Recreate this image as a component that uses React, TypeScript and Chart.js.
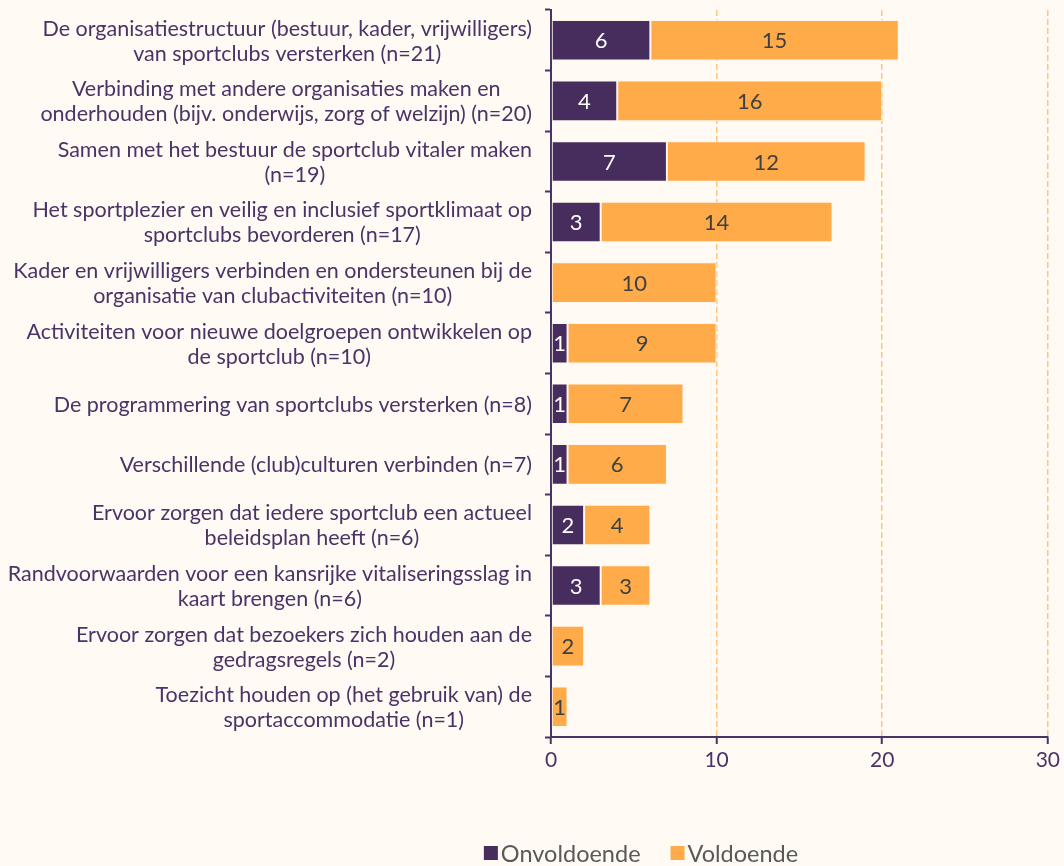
import React, { useEffect, useRef } from "react";
import { Chart, registerables } from "chart.js";

Chart.register(...registerables);

const categories: string[][] = [
  ["De organisatiestructuur (bestuur, kader, vrijwilligers)", "van sportclubs versterken (n=21)"],
  ["Verbinding met andere organisaties maken en", "onderhouden (bijv. onderwijs, zorg of welzijn) (n=20)"],
  ["Samen met het bestuur de sportclub vitaler maken", "(n=19)"],
  ["Het sportplezier en veilig en inclusief sportklimaat op", "sportclubs bevorderen (n=17)"],
  ["Kader en vrijwilligers verbinden en ondersteunen bij de", "organisatie van clubactiviteiten (n=10)"],
  ["Activiteiten voor nieuwe doelgroepen ontwikkelen op", "de sportclub (n=10)"],
  ["De programmering van sportclubs versterken (n=8)"],
  ["Verschillende (club)culturen verbinden (n=7)"],
  ["Ervoor zorgen dat iedere sportclub een actueel", "beleidsplan heeft (n=6)"],
  ["Randvoorwaarden voor een kansrijke vitaliseringsslag in", "kaart brengen (n=6)"],
  ["Ervoor zorgen dat bezoekers zich houden aan de", "gedragsregels (n=2)"],
  ["Toezicht houden op (het gebruik van) de", "sportaccommodatie (n=1)"],
];

const onvoldoende: number[] = [6, 4, 7, 3, 0, 1, 1, 1, 2, 3, 0, 0];
const voldoende: number[] = [15, 16, 12, 14, 10, 9, 7, 6, 4, 3, 2, 1];
const xTicks: number[] = [0, 10, 20, 30];

const PURPLE = "#472c5e";
const ORANGE = "#ffab4a";
const TEXT_PURPLE = "#4a3366";
const LEGEND_GREY = "#595959";
const GRID_ORANGE = "#ffc47f";
const BG = "#fffaf3";
const FONT = "Lato, 'Open Sans', sans-serif";

const labelPlugin = {
  id: "barValueLabels",
  afterDatasetsDraw(chart: any) {
    const ctx = chart.ctx;
    ctx.save();
    ctx.font = `22px ${FONT}`;
    ctx.textAlign = "center";
    ctx.textBaseline = "middle";
    chart.data.datasets.forEach((ds: any, di: number) => {
      const meta = chart.getDatasetMeta(di);
      meta.data.forEach((bar: any, i: number) => {
        const v = ds.data[i];
        if (!v) return;
        const cx = (bar.x + bar.base) / 2;
        ctx.fillStyle = di === 0 ? "#ffffff" : "#404040";
        ctx.fillText(String(v), cx, bar.y + 1);
      });
    });
    ctx.restore();
  },
};

// category labels: each block right-aligned to the axis, its lines centred within the block
const categoryLabelPlugin = {
  id: "categoryLabels",
  afterDraw(chart: any) {
    const ctx = chart.ctx;
    const y = chart.scales.y;
    ctx.save();
    ctx.font = `21.5px ${FONT}`;
    ctx.fillStyle = TEXT_PURPLE;
    ctx.textAlign = "center";
    ctx.textBaseline = "middle";
    const right = y.right - 19;
    const lh = 25;
    (chart.data.labels as string[][]).forEach((lines, i) => {
      const cy = y.getPixelForValue(i);
      const w = Math.max(...lines.map((l) => ctx.measureText(l).width));
      const cx = right - w / 2;
      const top = cy - ((lines.length - 1) * lh) / 2;
      lines.forEach((l, j) => ctx.fillText(l, cx, top + j * lh + 1));
    });
    ctx.restore();
  },
};

const legendPlugin = {
  id: "customLegend",
  afterDraw(chart: any) {
    const ctx = chart.ctx;
    ctx.save();
    ctx.font = `23.5px ${FONT}`;
    ctx.textBaseline = "middle";
    ctx.textAlign = "left";
    const cy = 853;
    const box = 14;
    const gapBoxText = 3;
    const gapItems = 30;
    const items = chart.data.datasets.map((d: any) => ({
      text: d.label,
      color: d.backgroundColor,
      w: box + gapBoxText + ctx.measureText(d.label).width,
    }));
    const total = items.reduce((s: number, it: any) => s + it.w, 0) + gapItems * (items.length - 1);
    let x = 641 - total / 2;
    items.forEach((it: any) => {
      ctx.fillStyle = it.color;
      ctx.fillRect(x, cy - box / 2, box, box);
      ctx.fillStyle = LEGEND_GREY;
      ctx.fillText(it.text, x + box + gapBoxText, cy + 1);
      x += it.w + gapItems;
    });
    ctx.restore();
  },
};

export default function App() {
  const ref = useRef<HTMLCanvasElement | null>(null);
  useEffect(() => {
    if (!ref.current) return;
    const chart = new Chart(ref.current, {
      type: "bar",
      data: {
        labels: categories,
        datasets: [
          {
            label: "Onvoldoende",
            data: onvoldoende,
            backgroundColor: PURPLE,
            borderColor: "#fff6ec",
            borderWidth: 1,
            borderSkipped: false,
            categoryPercentage: 1,
            barPercentage: 0.67,
          },
          {
            label: "Voldoende",
            data: voldoende,
            backgroundColor: ORANGE,
            borderColor: "#fff6ec",
            borderWidth: 1,
            borderSkipped: false,
            categoryPercentage: 1,
            barPercentage: 0.67,
          },
        ],
      },
      options: {
        indexAxis: "y",
        animation: false,
        responsive: false,
        maintainAspectRatio: false,
        layout: { padding: { top: 10, right: 0, left: 8, bottom: 0 } },
        scales: {
          x: {
            stacked: true,
            min: 0,
            max: 30,
            afterBuildTicks: (scale: any) => {
              scale.ticks = xTicks.map((v) => ({ value: v }));
            },
            afterFit: (scale: any) => {
              scale.height = 129;
            },
            border: { display: true, color: TEXT_PURPLE, width: 2, dash: [6, 3] },
            grid: {
              color: GRID_ORANGE,
              lineWidth: 1.5,
              tickColor: TEXT_PURPLE,
              tickWidth: 2,
              tickLength: 7,
              tickBorderDash: [],
            },
            ticks: {
              color: TEXT_PURPLE,
              font: { family: FONT, size: 21 },
              padding: 4,
            },
          },
          y: {
            stacked: true,
            afterFit: (scale: any) => {
              scale.width = 543;
              scale.paddingTop = 0;
              scale.paddingBottom = 0;
            },
            border: { display: true, color: TEXT_PURPLE, width: 2 },
            grid: {
              offset: true,
              drawOnChartArea: false,
              drawTicks: true,
              tickColor: TEXT_PURPLE,
              tickWidth: 2,
              tickLength: 6,
            },
            ticks: {
              display: false,
              autoSkip: false,
            },
          },
        },
        plugins: {
          legend: { display: false },
          tooltip: { enabled: false },
        },
      } as any,
      plugins: [labelPlugin, categoryLabelPlugin, legendPlugin],
    });
    return () => chart.destroy();
  }, []);
  return (
    <div style={{ position: "fixed", left: 0, top: 0, width: 1064, height: 866, background: BG }}>
      <canvas ref={ref} width={1064} height={866} style={{ width: 1064, height: 866, display: "block" }} />
    </div>
  );
}
